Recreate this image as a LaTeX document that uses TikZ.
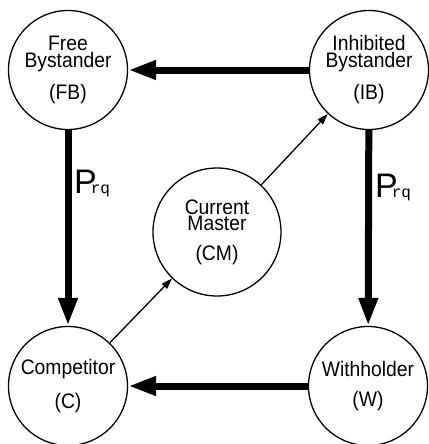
\documentclass[tikz,border=0pt]{standalone}
\usepackage{fontspec}
\setmainfont[FakeStretch=0.92]{Liberation Sans}
\newfontfamily\Pfont{Liberation Sans}
\newfontfamily\rqfont{Liberation Mono}
\usetikzlibrary{arrows.meta}
\begin{document}
\begin{tikzpicture}[x=1pt,y=-1pt,
  state/.style={circle,draw,line width=1.3pt,minimum size=119pt,inner sep=0pt,align=center,
    font=\fontsize{21}{16.5}\selectfont},
  thick arrow/.style={line width=7pt,-{Triangle[length=28pt,width=18pt]}},
  thin arrow/.style={line width=1.3pt,-{Triangle[length=11pt,width=7pt]}},
  plabel/.style={inner sep=0pt,anchor=base west}]
\useasboundingbox (0,0) rectangle (428,444);
\fill[white] (0,0) rectangle (428,444);
\node[state] (FB) at (68,70) {Free\\Bystander\\[12pt](FB)};
\node[state] (IB) at (369,70) {Inhibited\\Bystander\\[12pt](IB)};
\node[state] (C) at (68,386) {Competitor\\[13pt](C)};
\node[state] (W) at (368,386) {Withholder\\[13pt](W)};
\node[state,minimum size=128pt] (CM) at (217,232) {Current\\Master\\[13pt](CM)};
\draw[thick arrow] (IB) -- (FB);
\draw[thick arrow] (FB) -- (C);
\draw[thick arrow] (IB) -- (W);
\draw[thick arrow] (W) -- (C);
\draw[thin arrow] (C) -- (CM);
\draw[thin arrow] (CM) -- (IB);
\node[plabel] (P1) at (74,193) {\fontsize{34}{34}\Pfont P\kern-6pt\fontsize{16}{16}\rqfont rq};
\node[plabel] (P2) at (375,197) {\fontsize{34}{34}\Pfont P\kern-6pt\fontsize{16}{16}\rqfont rq};
\end{tikzpicture}
\end{document}
